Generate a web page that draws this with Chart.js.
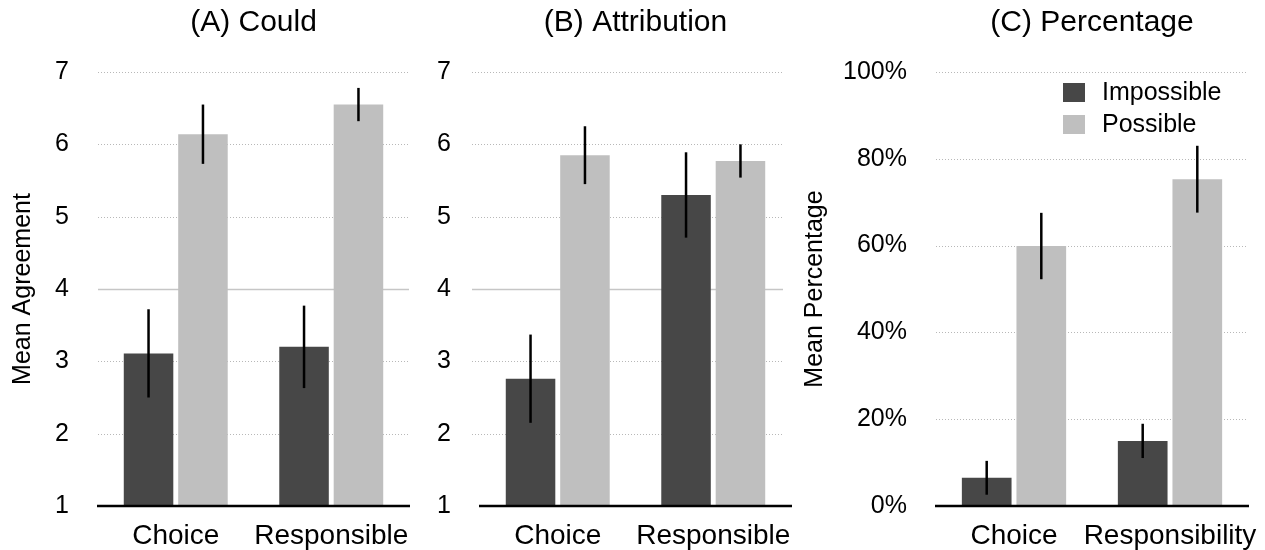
<!DOCTYPE html>
<html>
<head>
<meta charset="utf-8">
<title>Mean agreement and percentage by condition</title>
<script src="https://cdn.jsdelivr.net/npm/chart.js@4/dist/chart.umd.min.js"></script>
<style>
  html, body { margin: 0; padding: 0; background: #fff; }
  #wrap { position: relative; width: 1265px; height: 550px; overflow: hidden; }
  canvas { position: absolute; top: 0; }
</style>
</head>
<body>
<div id="wrap">
  <canvas id="panelA" width="420" height="550" style="left:0px"></canvas>
  <canvas id="panelB" width="372" height="550" style="left:420px"></canvas>
  <canvas id="panelC" width="473" height="550" style="left:792px"></canvas>
</div>
<script>
// ---- data ----
const seriesNames = ['Impossible', 'Possible'];
const categoriesAB = ['Choice', 'Responsible'];
const categoriesC = ['Choice', 'Responsibility'];

const couldImpossible = [3.11, 3.20];
const couldPossible = [6.14, 6.55];
const couldImpossibleErr = [0.61, 0.57];
const couldPossibleErr = [0.41, 0.23];

const attributionImpossible = [2.76, 5.30];
const attributionPossible = [5.85, 5.77];
const attributionImpossibleErr = [0.61, 0.59];
const attributionPossibleErr = [0.40, 0.23];

const percentImpossible = [6.5, 15.0];
const percentPossible = [59.9, 75.3];
const percentImpossibleErr = [3.9, 3.95];
const percentPossibleErr = [7.65, 7.7];

const agreementTicks = [1, 2, 3, 4, 5, 6, 7];
const percentTicks = [0, 20, 40, 60, 80, 100];
const agreementMidpoint = 4;

// ---- styling ----
const FONT = '"Liberation Sans", Arial, Helvetica, sans-serif';
const DARK = '#474747';
const LIGHT = '#bfbfbf';

// horizontal guide lines behind the bars: dotted for each tick, solid at the scale midpoint
const guideLines = {
  id: 'guideLines',
  beforeDatasetsDraw(chart, args, opts) {
    const { ctx, chartArea } = chart;
    const y = chart.scales.y;
    const x0 = chartArea.left - (opts.shiftLeft || 0);
    const x1 = chartArea.right - (opts.shiftLeft || 0);
    ctx.save();
    y.ticks.forEach(t => {
      if (t.value === y.min) return;
      const py = Math.round(y.getPixelForValue(t.value)) + 0.5;
      ctx.beginPath();
      if (opts.midpoint !== undefined && t.value === opts.midpoint) {
        ctx.setLineDash([]);
        ctx.strokeStyle = '#c6c6c6';
        ctx.lineWidth = 1.5;
      } else {
        ctx.setLineDash([1, 2]);
        ctx.strokeStyle = '#b8b8b8';
        ctx.lineWidth = 1;
      }
      ctx.moveTo(x0, py);
      ctx.lineTo(x1, py);
      ctx.stroke();
    });
    ctx.restore();
  }
};

// vertical error bars centred on each bar, plus the black baseline
const errorBars = {
  id: 'errorBars',
  afterDatasetsDraw(chart) {
    const { ctx, chartArea } = chart;
    const y = chart.scales.y;
    ctx.save();
    chart.data.datasets.forEach((ds, i) => {
      const meta = chart.getDatasetMeta(i);
      meta.data.forEach((bar, j) => {
        const v = ds.data[j];
        const e = ds.errors[j];
        ctx.beginPath();
        ctx.strokeStyle = '#000';
        ctx.lineWidth = 2.5;
        ctx.moveTo(bar.x, y.getPixelForValue(v + e));
        ctx.lineTo(bar.x, y.getPixelForValue(v - e));
        ctx.stroke();
      });
    });
    const base = y.getPixelForValue(y.min);
    ctx.beginPath();
    ctx.strokeStyle = '#000';
    ctx.lineWidth = 2.5;
    ctx.moveTo(chartArea.left - 1, base);
    ctx.lineTo(chartArea.right + 1, base);
    ctx.stroke();
    ctx.restore();
  }
};

// legend drawn inside the plot area, upper right
const insideLegend = {
  id: 'insideLegend',
  afterDraw(chart, args, opts) {
    if (!opts.show) return;
    const { ctx, chartArea } = chart;
    ctx.save();
    ctx.font = '25px ' + FONT;
    ctx.textBaseline = 'middle';
    ctx.textAlign = 'left';
    chart.data.datasets.forEach((ds, i) => {
      const bx = chartArea.left + 127;
      const by = chartArea.top + 11 + i * 32;
      ctx.fillStyle = ds.backgroundColor;
      ctx.fillRect(bx, by, 22, 19);
      ctx.fillStyle = '#000';
      ctx.fillText(ds.label, bx + 39, by + 10);
    });
    ctx.restore();
  }
};

function makePanel(id, p) {
  return new Chart(document.getElementById(id), {
    type: 'bar',
    data: {
      labels: p.categories,
      datasets: [
        { label: seriesNames[0], data: p.impossible, errors: p.impossibleErr, backgroundColor: DARK },
        { label: seriesNames[1], data: p.possible, errors: p.possibleErr, backgroundColor: LIGHT }
      ]
    },
    options: {
      responsive: false,
      animation: false,
      events: [],
      categoryPercentage: 0.7,
      barPercentage: 0.91,
      layout: { padding: { left: 0, right: p.rightPad, top: 0, bottom: 0 } },
      plugins: {
        legend: { display: false },
        tooltip: { enabled: false },
        title: {
          display: true,
          text: p.title,
          fullSize: false,
          color: '#000',
          font: { family: FONT, size: 30, weight: 'normal' },
          padding: { top: 5, bottom: 31 }
        },
        guideLines: { midpoint: p.midpoint, shiftLeft: p.gridShift || 0 },
        insideLegend: { show: !!p.legend }
      },
      scales: {
        x: {
          grid: { display: false, drawTicks: false },
          border: { display: false },
          ticks: {
            color: '#000',
            font: { family: FONT, size: 28 },
            padding: 13.5,
            maxRotation: 0,
            autoSkip: false
          },
          afterFit: s => { s.height = 44; s.paddingLeft = 0; s.paddingRight = 0; }
        },
        y: {
          min: p.ticks[0],
          max: p.ticks[p.ticks.length - 1],
          afterBuildTicks: s => { s.ticks = p.ticks.map(v => ({ value: v })); },
          grid: { display: false, drawTicks: false },
          border: { display: false },
          ticks: {
            color: '#000',
            font: { family: FONT, size: 25 },
            padding: 29,
            callback: p.tickFormat
          },
          title: {
            display: !!p.yTitle,
            text: p.yTitle || '',
            color: '#000',
            font: { family: FONT, size: 25 },
            padding: { top: 8, bottom: 0 }
          },
          afterFit: s => { s.width = p.yWidth; }
        }
      }
    },
    plugins: [guideLines, errorBars, insideLegend]
  });
}

makePanel('panelA', {
  title: '(A) Could',
  categories: categoriesAB,
  impossible: couldImpossible, possible: couldPossible,
  impossibleErr: couldImpossibleErr, possibleErr: couldPossibleErr,
  ticks: agreementTicks, midpoint: agreementMidpoint,
  tickFormat: v => String(v),
  yTitle: 'Mean Agreement', yWidth: 98, rightPad: 11
});

makePanel('panelB', {
  title: '(B) Attribution',
  categories: categoriesAB,
  impossible: attributionImpossible, possible: attributionPossible,
  impossibleErr: attributionImpossibleErr, possibleErr: attributionPossibleErr,
  ticks: agreementTicks, midpoint: agreementMidpoint,
  tickFormat: v => String(v),
  yTitle: null, yWidth: 60, rightPad: 1, gridShift: 8
});

makePanel('panelC', {
  title: '(C) Percentage',
  categories: categoriesC,
  impossible: percentImpossible, possible: percentPossible,
  impossibleErr: percentImpossibleErr, possibleErr: percentPossibleErr,
  ticks: percentTicks,
  tickFormat: v => v + '%',
  yTitle: 'Mean Percentage', yWidth: 144, rightPad: 17,
  legend: true
});
</script>
</body>
</html>
